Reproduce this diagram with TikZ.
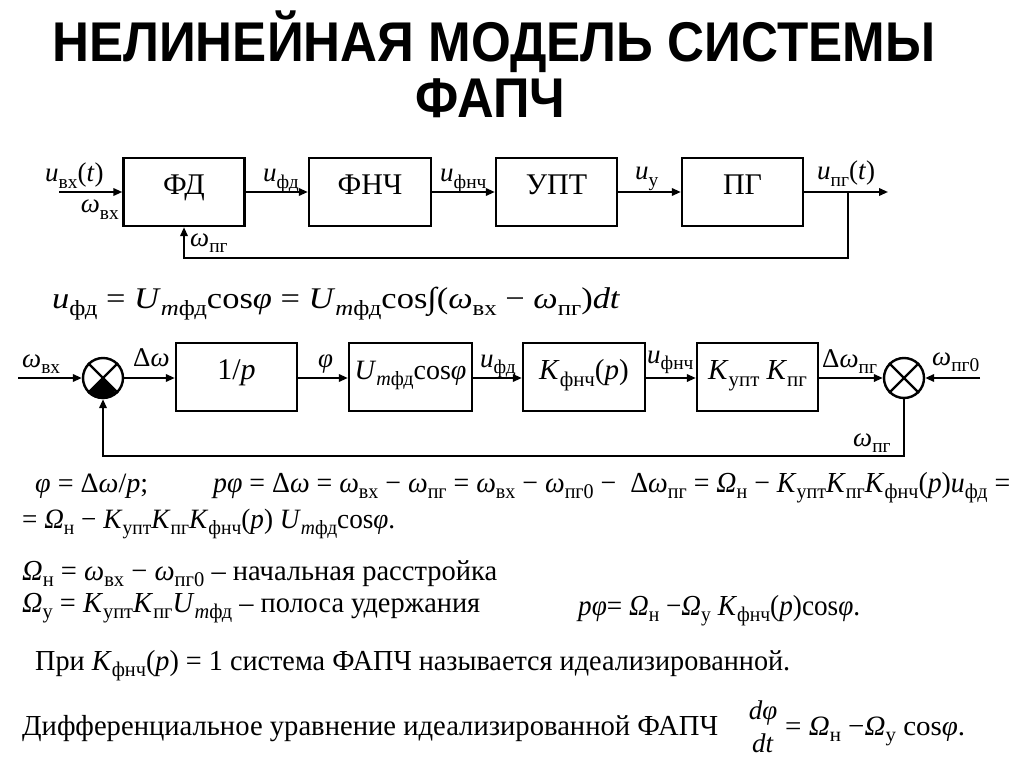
\documentclass[tikz,border=0pt]{standalone}
\usepackage{fontspec}
\usepackage{graphicx}
\setmainfont{Liberation Serif}
\newfontfamily\titlefont{Liberation Sans}
\usetikzlibrary{arrows.meta,calc}
\makeatletter
\newcommand\sbb[1]{\raisebox{-0.24em}{\fontsize{\fpeval{0.72*\f@size}}{0}\selectfont #1}}
\makeatother
\newcommand\vi[1]{\textit{#1}}
\newcommand\fitw[3]{\resizebox{#1pt}{\height}{\fontsize{#2}{#2}\selectfont #3}}
\begin{document}
\begin{tikzpicture}[x=1pt,y=-1pt,
 blk/.style={draw, line width=2.4pt, minimum height=68pt, inner sep=0pt, text height=0.7em, text depth=0.25em, font=\fontsize{30}{30}\selectfont},
 sumr/.style={draw, circle, line width=2.4pt, minimum size=40pt, inner sep=0pt},
 conn/.style={line width=2pt, -{Triangle[length=9pt,width=7.5pt]}},
 plain/.style={line width=2.2pt},
 lbl/.style={anchor=base west, inner sep=0pt, font=\fontsize{27}{27}\selectfont},
 txt/.style={anchor=base west, inner sep=0pt}
]
\useasboundingbox[fill=white] (0,0) rectangle (1024,767);
% title
\node[txt] (t1) at (52,62) {\fitw{883}{56}{\titlefont\bfseries НЕЛИНЕЙНАЯ МОДЕЛЬ СИСТЕМЫ}};
\node[txt] (t2) at (415,118) {\fitw{150}{56}{\titlefont\bfseries ФАПЧ}};
% top diagram
\node[blk, minimum width=121pt] (fd) at (184,192) {ФД};
\node[blk, minimum width=122pt] (fnch) at (370,192) {ФНЧ};
\node[blk, minimum width=121pt] (upt) at (556.5,192) {УПТ};
\node[blk, minimum width=121pt] (pg) at (742.5,192) {ПГ};
\coordinate (in1) at (59,192);
\coordinate (out1) at (888,192);
\coordinate (tap1) at (848,192);
\coordinate (fb1) at (848,258);
\draw[conn] (in1) -- (fd.west);
\draw[conn] (fd.east) -- (fnch.west);
\draw[conn] (fnch.east) -- (upt.west);
\draw[conn] (upt.east) -- (pg.west);
\draw[conn] (pg.east) -- (out1);
\draw[conn] (tap1) -- (fb1) -| (fd.south);
\node[lbl] (l1) at (45,182) {\vi{u}\sbb{вх}(\vi{t})};
\node[lbl, anchor=base east] (l2) at (119,213) {\vi{ω}\sbb{вх}};
\node[lbl] (l3) at (263,182) {\vi{u}\sbb{фд}};
\node[lbl] (l4) at (440,182) {\vi{u}\sbb{фнч}};
\node[lbl] (l5) at (635,180) {\vi{u}\sbb{у}};
\node[lbl] (l6) at (817,180) {\vi{u}\sbb{пг}(\vi{t})};
\node[lbl] (l7) at (190,246) {\vi{ω}\sbb{пг}};
% formula
\node[txt] (f1) at (52,308) {\fitw{568}{30}{\vi{u}\sbb{фд} = \vi{U}\sbb{\vi{m}фд}cos\vi{φ} = \vi{U}\sbb{\vi{m}фд}cos∫(\vi{ω}\sbb{вх} − \vi{ω}\sbb{пг})\vi{dt}}};
% second diagram
\node[sumr] (s1) at (103,378) {};
\fill (s1.center) -- (s1.south west) arc[start angle=225, end angle=315, radius=20pt] -- cycle;
\draw[plain] (s1.north west) -- (s1.south east) (s1.north east) -- (s1.south west);
\node[blk, minimum width=121pt] (b1) at (236.5,377) {1/\vi{p}};
\node[blk, minimum width=123pt, font=\fontsize{28}{28}\selectfont] (b2) at (410.5,377) {\vi{U}\sbb{\vi{m}фд}cos\vi{φ}};
\node[blk, minimum width=122pt, font=\fontsize{29}{29}\selectfont] (b3) at (584,377) {\vi{K}\sbb{фнч}(\vi{p})};
\node[blk, minimum width=121pt, font=\fontsize{29}{29}\selectfont] (b4) at (757.5,377) {\vi{K}\sbb{упт} \vi{K}\sbb{пг}};
\node[sumr] (s2) at (904,378) {};
\draw[plain] (s2.north west) -- (s2.south east) (s2.north east) -- (s2.south west);
\coordinate (in2) at (18,378);
\coordinate (in3) at (980,378);
\coordinate (fb2) at (0,456);
\draw[conn] (in2) -- (s1.west);
\draw[conn] (s1.east) -- (b1.west |- s1.east);
\draw[conn] (b1.east |- s1.east) -- (b2.west |- s1.east);
\draw[conn] (b2.east |- s1.east) -- (b3.west |- s1.east);
\draw[conn] (b3.east |- s1.east) -- (b4.west |- s1.east);
\draw[conn] (b4.east |- s1.east) -- (s2.west);
\draw[conn] (in3) -- (s2.east);
\draw[conn] (s2.south) -- (s2.south |- fb2) -| (s1.south);
\node[lbl] (m1) at (22,367) {\vi{ω}\sbb{вх}};
\node[lbl] (m2) at (133,366) {Δ\vi{ω}};
\node[lbl] (m3) at (318,367) {\vi{φ}};
\node[lbl] (m4) at (480,367) {\vi{u}\sbb{фд}};
\node[lbl] (m5) at (647,363) {\vi{u}\sbb{фнч}};
\node[lbl] (m6) at (822,367) {Δ\vi{ω}\sbb{пг}};
\node[lbl] (m7) at (932,365) {\vi{ω}\sbb{пг0}};
\node[lbl] (m8) at (853,446) {\vi{ω}\sbb{пг}};
% equations
\node[txt] (e1) at (35,492) {\fitw{113}{28}{\vi{φ} = Δ\vi{ω}/\vi{p};}};
\node[txt] (e2) at (213,492) {\fitw{797}{29}{\vi{p}\vi{φ} = Δ\vi{ω} = \vi{ω}\sbb{вх} − \vi{ω}\sbb{пг} = \vi{ω}\sbb{вх} − \vi{ω}\sbb{пг0} − \ Δ\vi{ω}\sbb{пг} = \vi{Ω}\sbb{н} − \vi{K}\sbb{упт}\vi{K}\sbb{пг}\vi{K}\sbb{фнч}(\vi{p})\vi{u}\sbb{фд} =}};
\node[txt] (e3) at (22,528) {\fitw{373}{28}{= \vi{Ω}\sbb{н} − \vi{K}\sbb{упт}\vi{K}\sbb{пг}\vi{K}\sbb{фнч}(\vi{p}) \vi{U}\sbb{\vi{m}фд}cos\vi{φ}.}};
\node[txt] (e4) at (22,580) {\fitw{475}{29}{\vi{Ω}\sbb{н} = \vi{ω}\sbb{вх} − \vi{ω}\sbb{пг0} – начальная расстройка}};
\node[txt] (e5) at (22,612) {\fitw{458}{29}{\vi{Ω}\sbb{у} = \vi{K}\sbb{упт}\vi{K}\sbb{пг}\vi{U}\sbb{\vi{m}фд} – полоса удержания}};
\node[txt] (e6) at (578,615) {\fitw{282}{29}{\vi{p}\vi{φ}= \vi{Ω}\sbb{н} −\vi{Ω}\sbb{у} \vi{K}\sbb{фнч}(\vi{p})cos\vi{φ}.}};
\node[txt] (e7) at (35,670) {\fitw{755}{29}{При \vi{K}\sbb{фнч}(\vi{p}) = 1 система ФАПЧ называется идеализированной.}};
\node[txt] (e8) at (22,735) {\fitw{696}{29}{Дифференциальное уравнение идеализированной ФАПЧ}};
\node[anchor=base, inner sep=0pt, font=\fontsize{27}{27}\selectfont] (e9) at (763,719) {\vi{dφ}};
\node[anchor=base, inner sep=0pt, font=\fontsize{27}{27}\selectfont] (e10) at (763,752) {\vi{dt}};
\node[txt] (e11) at (785,735) {\fitw{180}{28}{= \vi{Ω}\sbb{н} −\vi{Ω}\sbb{у} cos\vi{φ}.}};
\end{tikzpicture}
\end{document}
